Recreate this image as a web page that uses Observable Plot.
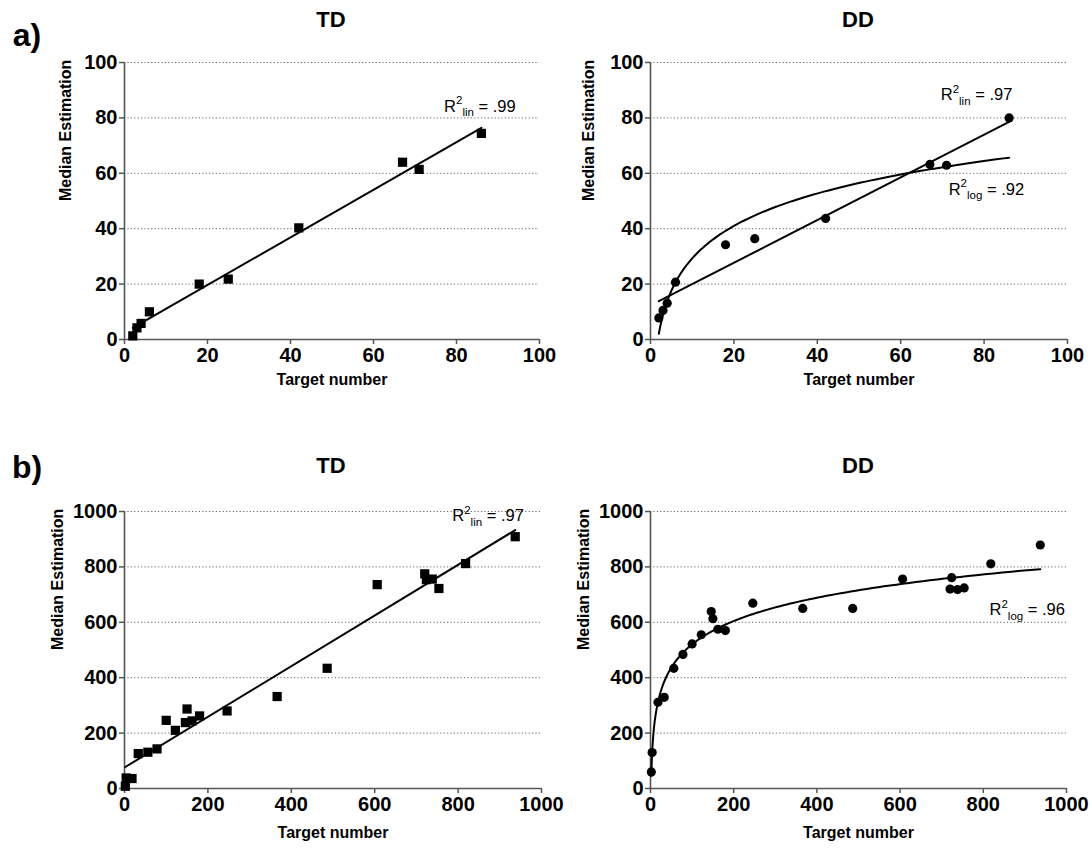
<!DOCTYPE html>
<html>
<head>
<meta charset="utf-8">
<script src="https://cdn.jsdelivr.net/npm/d3@7"></script>
<script src="https://cdn.jsdelivr.net/npm/@observablehq/plot@0.6"></script>
<style>
  body { margin: 0; background: #fff; }
  #chart { position: relative; width: 1092px; height: 854px; font-family: "Liberation Sans", Arial, sans-serif; }
  .panel { position: absolute; }
  .lbl { position: absolute; font-weight: bold; color: #000; transform: translate(-50%, -50%); white-space: nowrap; line-height: 1; }
</style>
</head>
<body>
<div id="chart"></div>
<script>
// Experiment a): target numbers and median estimations
const targetsA = [2, 3, 4, 6, 18, 25, 42, 67, 71, 86];
const tdEstA   = [1.3, 4.2, 5.8, 10, 20, 21.8, 40.3, 64, 61.4, 74.4];
const ddEstA   = [7.8, 10.5, 13.1, 20.7, 34.2, 36.4, 43.7, 63.2, 62.9, 80];

// Experiment b): target numbers and median estimations
const targetsB = [2, 4, 18, 33, 56, 78, 100, 122, 146, 150, 162, 180, 246, 366, 486, 606, 720, 724, 738, 754, 818, 937];
const tdEstB   = [8, 38, 36, 126, 131, 143, 246, 210, 238, 287, 244, 262, 280, 332, 434, 736, 775, 754, 756, 722, 812, 909];
const ddEstB   = [60, 130, 311, 329, 434, 484, 522, 555, 639, 613, 575, 570, 669, 650, 650, 756, 720, 761, 718, 724, 811, 879];

// Axis ticks
const ticksA = [0, 20, 40, 60, 80, 100];
const ticksB = [0, 200, 400, 600, 800, 1000];

// Titles and fit statistics
const panelLabels = ["a)", "b)"];
const conditions = ["TD", "DD"];
const fitNotes = {
  aTD: ["R2lin = .99"],
  aDD: ["R2lin = .97", "R2log = .92"],
  bTD: ["R2lin = .97"],
  bDD: ["R2log = .96"]
};

// Least-squares fit of y = a + b·ln(x), sampled along the observed target range
function logFit(xs, ys) {
  const lx = xs.map(Math.log);
  const mx = d3.mean(lx), my = d3.mean(ys);
  const b = d3.sum(lx, (v, i) => (v - mx) * (ys[i] - my)) / d3.sum(lx, v => (v - mx) ** 2);
  const a = my - b * mx;
  const lo = d3.min(xs), hi = d3.max(xs);
  return d3.range(0, 241).map(i => {
    const x = lo * Math.pow(hi / lo, i / 240);
    return {x, y: a + b * Math.log(x)};
  });
}

// Turn "R2lin = .99" into R with a superscript 2 and a subscript fit name
function formatNotes(svg) {
  svg.querySelectorAll("text").forEach(t => {
    const m = /^R2(lin|log)( = .+)$/.exec(t.textContent);
    if (!m) return;
    t.textContent = "";
    t.setAttribute("xml:space", "preserve");
    const ns = "http://www.w3.org/2000/svg";
    const add = (s, dy, size) => {
      const ts = document.createElementNS(ns, "tspan");
      ts.textContent = s;
      if (dy) ts.setAttribute("dy", dy);
      if (size) ts.setAttribute("font-size", size);
      t.appendChild(ts);
    };
    add("R");
    add("2", -7.5, 11.5);
    add(m[1], 12, 11.5);
    add(m[2], -4.5);
  });
}

function panel(cfg) {
  const data = cfg.targets.map((t, i) => ({x: t, y: cfg.est[i]}));
  const xMax = cfg.xTicks[cfg.xTicks.length - 1];
  const yMax = cfg.yTicks[cfg.yTicks.length - 1];
  const fmt = d3.format("d");
  const marks = [
    Plot.gridY(cfg.yTicks.filter(t => t > 0), {stroke: "#666", strokeOpacity: 1, strokeWidth: 1, strokeDasharray: "1.2,2.2"}),
    Plot.axisX(cfg.xTicks, {tickSize: 5, tickPadding: 3, tickFormat: fmt, stroke: "#555", strokeWidth: 1.5, fill: "#000", label: null}),
    Plot.axisY(cfg.yTicks, {tickSize: 5, tickPadding: 2, tickFormat: fmt, stroke: "#555", strokeWidth: 1.5, fill: "#000", label: null}),
    Plot.ruleX([0], {stroke: "#555", strokeWidth: 1.6}),
    Plot.ruleY([0], {stroke: "#555", strokeWidth: 1.6}),
    Plot.text(["Median Estimation"], {text: d => d, frameAnchor: "left", dx: cfg.yLabelDx, rotate: -90, fontSize: 16, fontWeight: "bold"}),
    Plot.text(["Target number"], {text: d => d, frameAnchor: "bottom", dy: cfg.xLabelDy, fontSize: 16, fontWeight: "bold"})
  ];
  if (cfg.lin) marks.push(Plot.linearRegressionY(data, {x: "x", y: "y", ci: 0, stroke: "#000", strokeWidth: 2}));
  if (cfg.log) marks.push(Plot.line(logFit(cfg.targets, cfg.est), {x: "x", y: "y", stroke: "#000", strokeWidth: 2}));
  marks.push(Plot.dot(data, {x: "x", y: "y", symbol: cfg.symbol, r: cfg.r, fill: "#000", stroke: null}));
  cfg.notes.forEach((n, i) => {
    marks.push(Plot.text([cfg.noteAt[i]], {x: "x", y: "y", text: () => n, textAnchor: "start", fontSize: 16.5, fontWeight: "normal"}));
  });
  const svg = Plot.plot({
    width: cfg.width,
    height: cfg.height,
    marginLeft: cfg.ml, marginRight: cfg.mr, marginTop: cfg.mt, marginBottom: cfg.mb,
    x: {domain: [0, xMax], label: null},
    y: {domain: [0, yMax], label: null},
    style: {fontFamily: "'Liberation Sans', Arial, sans-serif", fontSize: "20px", fontWeight: "bold", background: "transparent", overflow: "visible", color: "#000"},
    marks
  });
  formatNotes(svg);
  const div = document.createElement("div");
  div.className = "panel";
  div.style.left = cfg.left + "px";
  div.style.top = cfg.top + "px";
  div.style.width = cfg.width + "px";
  div.appendChild(svg);
  document.getElementById("chart").appendChild(div);
}

panel({left: 0, top: 0, width: 600, height: 400, ml: 124, mr: 61, mt: 62, mb: 61,
  xTicks: ticksA, yTicks: ticksA, targets: targetsA, est: tdEstA, symbol: "square", r: 5.2,
  lin: true, notes: fitNotes.aTD, noteAt: [{x: 77, y: 84.2}], yLabelDx: -59, xLabelDy: 45});
panel({left: 546, top: 0, width: 546, height: 400, ml: 104, mr: 25, mt: 62, mb: 61,
  xTicks: ticksA, yTicks: ticksA, targets: targetsA, est: ddEstA, symbol: "circle", r: 4.6,
  lin: true, log: true, notes: fitNotes.aDD, noteAt: [{x: 69.6, y: 88.3}, {x: 71.5, y: 54.1}], yLabelDx: -62, xLabelDy: 45});
panel({left: 0, top: 430, width: 600, height: 424, ml: 124, mr: 59, mt: 81, mb: 66,
  xTicks: ticksB, yTicks: ticksB, targets: targetsB, est: tdEstB, symbol: "square", r: 5.2,
  lin: true, notes: fitNotes.bTD, noteAt: [{x: 786, y: 984}], yLabelDx: -67, xLabelDy: 49});
panel({left: 546, top: 430, width: 546, height: 424, ml: 104, mr: 26, mt: 81, mb: 66,
  xTicks: ticksB, yTicks: ticksB, targets: targetsB, est: ddEstB, symbol: "circle", r: 4.6,
  log: true, notes: fitNotes.bDD, noteAt: [{x: 815, y: 645}], yLabelDx: -67, xLabelDy: 49});

// Row labels and condition titles
function label(text, x, y, size) {
  const el = document.createElement("div");
  el.className = "lbl";
  el.textContent = text;
  el.style.left = x + "px";
  el.style.top = y + "px";
  el.style.fontSize = size + "px";
  document.getElementById("chart").appendChild(el);
}
label(panelLabels[0], 27, 35, 32);
label(panelLabels[1], 27, 467, 32);
label(conditions[0], 331, 20, 22);
label(conditions[1], 858, 20, 22);
label(conditions[0], 331, 466, 22);
label(conditions[1], 858, 466, 22);
</script>
</body>
</html>
